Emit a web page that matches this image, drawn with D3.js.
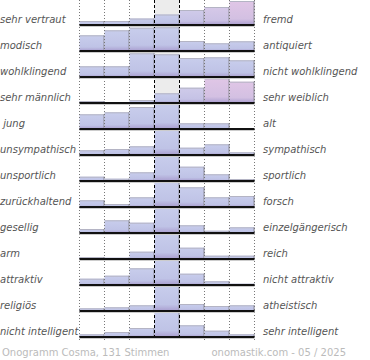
<!DOCTYPE html>
<html><head><meta charset="utf-8">
<script src="https://cdn.jsdelivr.net/npm/d3@7"></script>
<style>body{margin:0;background:#fff}svg{display:block}</style>
</head><body><svg id="c" width="370" height="360"></svg>
<script>
const leftLabels = ["sehr vertraut","modisch","wohlklingend","sehr männlich"," jung","unsympathisch","unsportlich","zurückhaltend","gesellig","arm","attraktiv","religiös","nicht intelligent"];
const rightLabels = ["fremd","antiquiert","nicht wohlklingend","sehr weiblich","alt","sympathisch","sportlich","forsch","einzelgängerisch","reich","nicht attraktiv","atheistisch","sehr intelligent"];
const values = [
  [4,4,6.5,10.5,15,18,24],
  [15.7,20.7,23.3,23.7,10,7.7,9.7],
  [10.7,10.7,23.7,22.7,19,19.7,16.7],
  [2,1,3,9.7,15.3,24.7,21.3],
  [14.7,16.7,22,30,5.7,5.7,0],
  [4.7,6,8.7,30,7.3,10.7,2.7],
  [4.3,2.3,8.7,30,14.3,6.7,2],
  [6.7,3,9.7,30,19.7,9.7,11],
  [4,12.7,10.3,30,7.7,2.3,5.7],
  [2,1.3,7.3,30,11.3,3.3,3.3],
  [6.3,9.3,16.7,30,11.3,3.7,1.3],
  [2.7,3.7,5.7,30,7,5,5.7],
  [2.7,5,9,30,11.7,6.3,2.7]
];
const footerLeft = "Onogramm Cosma, 131 Stimmen";
const footerRight = "onomastik.com - 05 / 2025";
const pinkTint = {"0-4":0.35,"0-5":0.6,"0-6":1,"3-4":0.3,"3-5":1,"3-6":1};

const svg = d3.select("#c");
const cols = d3.range(7);
const x = d3.scaleBand().domain(cols).range([79.5, 254.5]).padding(0);
const y = d3.scaleBand().domain(d3.range(leftLabels.length)).range([-1, 337]).padding(0);
const h = d3.scaleLinear().domain([0, 26]).range([0, 26]).clamp(true);

const defs = svg.append("defs");
function grad(id, top, mid, bot){
  const g = defs.append("linearGradient").attr("id", id).attr("x1",0).attr("y1",0).attr("x2",0).attr("y2",1);
  g.append("stop").attr("offset","0%").attr("stop-color",top);
  g.append("stop").attr("offset","75%").attr("stop-color",mid);
  g.append("stop").attr("offset","100%").attr("stop-color",bot);
}
grad("gb","#c8cdec","#bfc3e6","#a99dcf");
const mixCol = (a,b,t)=>d3.interpolateRgb(a,b)(t);
Object.entries(pinkTint).forEach(([k,t])=>{
  grad("gp"+k, mixCol("#c8cdec","#e0c6e6",t), mixCol("#bfc3e6","#d3c0e2",t), "#a99dcf");
});

// center column background
svg.append("rect").attr("x", x(3)).attr("y", 0).attr("width", x.bandwidth()).attr("height", 337)
  .attr("fill", "#ececec");

// bars
leftLabels.forEach((lab, i) => {
  const base = y(i) + y.bandwidth();
  const g = svg.append("g");
  values[i].forEach((v, j) => {
    const bh = h(v);
    if (bh <= 0) return;
    const key = i + "-" + j;
    const fill = pinkTint[key] ? "url(#gp" + key + ")" : "url(#gb)";
    g.append("rect").attr("x", x(j)).attr("y", base - bh).attr("width", x.bandwidth()).attr("height", bh).attr("fill", fill);
    g.append("line").attr("x1", x(j)).attr("x2", x(j) + x.bandwidth()).attr("y1", base - bh + 0.5).attr("y2", base - bh + 0.5)
      .attr("stroke", "#b4b4c4").attr("stroke-width", 1);
    g.append("line").attr("x1", x(j) + x.bandwidth() - 0.5).attr("x2", x(j) + x.bandwidth() - 0.5).attr("y1", base - bh).attr("y2", base)
      .attr("stroke", "#8c8c98").attr("stroke-width", 1);
  });
});

// grid lines
cols.concat([7]).forEach(k => {
  const xx = (k < 7 ? x(k) : x(6) + x.bandwidth());
  const dashed = (k === 3 || k === 4);
  svg.append("line").attr("x1", xx).attr("x2", xx).attr("y1", 0).attr("y2", 340)
    .attr("stroke", dashed ? "#000" : "#777").attr("stroke-width", 1)
    .attr("stroke-dasharray", dashed ? "3,2" : "1,2");
});

// baselines
leftLabels.forEach((lab, i) => {
  const base = y(i) + y.bandwidth();
  svg.append("line").attr("x1", x(0)).attr("x2", x(6) + x.bandwidth()).attr("y1", base).attr("y2", base)
    .attr("stroke", "#111").attr("stroke-width", 2);
  svg.append("line").attr("x1", x(0)).attr("x2", x(6) + x.bandwidth()).attr("y1", base + 1.5).attr("y2", base + 1.5)
    .attr("stroke", "#ccc").attr("stroke-width", 1);
});

// labels
const font = "DejaVu Sans, sans-serif";
svg.selectAll("text.l").data(leftLabels).enter().append("text")
  .attr("x", 0).attr("y", (d, i) => y(i) + y.bandwidth() - 2)
  .attr("font-family", font).attr("font-size", 10).attr("font-style", "italic")
  .attr("fill", "#555").style("white-space", "pre").text(d => d);
svg.selectAll("text.r").data(rightLabels).enter().append("text")
  .attr("x", 263).attr("y", (d, i) => y(i) + y.bandwidth() - 2)
  .attr("font-family", font).attr("font-size", 10).attr("font-style", "italic")
  .attr("fill", "#555").text(d => d);

svg.append("text").attr("x", 2).attr("y", 356).attr("font-family", font).attr("font-size", 10)
  .attr("fill", "#bbb").text(footerLeft);
svg.append("text").attr("x", 346).attr("y", 356).attr("text-anchor", "end").attr("font-family", font).attr("font-size", 10)
  .attr("fill", "#bbb").text(footerRight);
</script></body></html>
